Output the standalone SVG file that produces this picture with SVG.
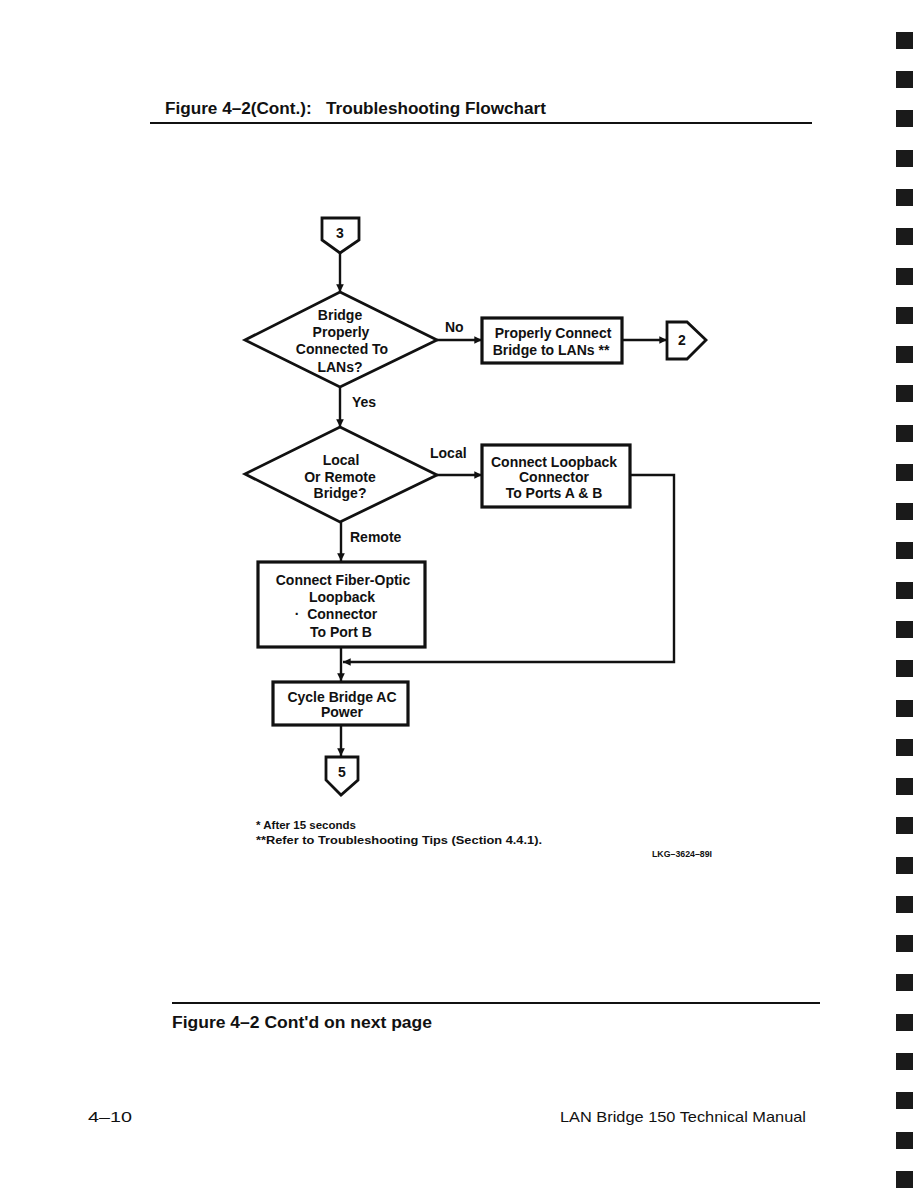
<svg xmlns="http://www.w3.org/2000/svg" width="918" height="1188" viewBox="0 0 918 1188">
<style>
.t{font-family:"Liberation Sans",Arial,sans-serif;font-weight:bold;font-size:14px;fill:#111}
.c{text-anchor:middle}
.h{font-size:16px}
.n{font-size:11.5px}
.s{font-size:9.5px}
.f{font-size:15px;font-weight:normal}
.shape{fill:#fff;stroke:#111;stroke-width:2.8}
.box{fill:#fff;stroke:#111;stroke-width:3.2}
.ln{fill:none;stroke:#111;stroke-width:2.4}
.rule{stroke:#111;stroke-width:2.2}
.mark{fill:#1a1a1a}
</style>
<defs>
<marker id="ah" viewBox="0 0 10 10" refX="10" refY="5" markerWidth="3.2" markerHeight="3.2" orient="auto" markerUnits="strokeWidth">
<path d="M0,0 L10,5 L0,10 z" fill="#111"/>
</marker>
</defs>
<rect width="918" height="1188" fill="#fff"/>

<g id="header">
<text class="t h" x="165" y="114" xml:space="preserve" textLength="381" lengthAdjust="spacingAndGlyphs">Figure 4–2(Cont.):   Troubleshooting Flowchart</text>
<line class="rule" x1="150" y1="123" x2="812" y2="123"/>
</g>

<g id="connectors">
<path class="ln" d="M340,253 V292" marker-end="url(#ah)"/>
<path class="ln" d="M437,340 H482" marker-end="url(#ah)"/>
<path class="ln" d="M622,340 H667" marker-end="url(#ah)"/>
<path class="ln" d="M340,387 V427" marker-end="url(#ah)"/>
<path class="ln" d="M437,475 H482" marker-end="url(#ah)"/>
<path class="ln" d="M341,522 V561" marker-end="url(#ah)"/>
<path class="ln" d="M630,475 H674 V662 H343" marker-end="url(#ah)"/>
<path class="ln" d="M341,647 V681" marker-end="url(#ah)"/>
<path class="ln" d="M341,725 V756" marker-end="url(#ah)"/>
</g>

<g id="labels">
<text class="t" x="445" y="332">No</text>
<text class="t" x="352" y="407">Yes</text>
<text class="t" x="430" y="458">Local</text>
<text class="t" x="350" y="542">Remote</text>
</g>

<g id="conn3">
<path class="shape" d="M322,218 H359 V240 L340,253 L322,240 Z"/>
<text class="t c" x="340" y="238">3</text>
</g>

<g id="decision1">
<path class="shape" d="M340,292 L437,340 L340,387 L245,340 Z"/>
<text class="t c" x="340" y="320">Bridge</text>
<text class="t c" x="341" y="337">Properly</text>
<text class="t c" x="342" y="354">Connected To</text>
<text class="t c" x="340" y="372">LANs?</text>
</g>

<g id="box1">
<rect class="box" x="482" y="318" width="140" height="45"/>
<text class="t c" x="553" y="338">Properly Connect</text>
<text class="t c" x="551" y="355">Bridge to LANs **</text>
</g>

<g id="conn2">
<path class="shape" d="M667,322 H687 L706,340 L687,359 H667 Z"/>
<text class="t c" x="682" y="345">2</text>
</g>

<g id="decision2">
<path class="shape" d="M340,427 L437,475 L340,522 L245,474 Z"/>
<text class="t c" x="341" y="465">Local</text>
<text class="t c" x="340" y="482">Or Remote</text>
<text class="t c" x="340" y="498">Bridge?</text>
</g>

<g id="box2">
<rect class="box" x="482" y="445" width="148" height="62"/>
<text class="t c" x="554" y="467">Connect Loopback</text>
<text class="t c" x="554" y="482">Connector</text>
<text class="t c" x="554" y="498">To Ports A &amp; B</text>
</g>

<g id="box3">
<rect class="box" x="258" y="562" width="167" height="85"/>
<text class="t c" x="343" y="585">Connect Fiber-Optic</text>
<text class="t c" x="342" y="602">Loopback</text>
<text class="t c" x="336" y="619" xml:space="preserve">·  Connector</text>
<text class="t c" x="341" y="637">To Port B</text>
</g>

<g id="box4">
<rect class="box" x="273" y="682" width="135" height="43"/>
<text class="t c" x="342" y="702">Cycle Bridge AC</text>
<text class="t c" x="342" y="717">Power</text>
</g>

<g id="conn5">
<path class="shape" d="M326,757 H358 V780 L341,795 L326,780 Z"/>
<text class="t c" x="342" y="777">5</text>
</g>

<g id="notes">
<text class="t n" x="256" y="829">* After 15 seconds</text>
<text class="t n" x="256" y="844" textLength="286" lengthAdjust="spacingAndGlyphs">**Refer to Troubleshooting Tips (Section 4.4.1).</text>
<text class="t s" x="652" y="857" textLength="60" lengthAdjust="spacingAndGlyphs">LKG–3624–89I</text>
</g>

<g id="footer">
<line class="rule" x1="172" y1="1003" x2="820" y2="1003"/>
<text class="t h" x="172" y="1028" textLength="260" lengthAdjust="spacingAndGlyphs">Figure 4–2 Cont'd on next page</text>
<text class="t f" x="88" y="1122" textLength="44" lengthAdjust="spacingAndGlyphs">4–10</text>
<text class="t f" x="560" y="1122" textLength="246" lengthAdjust="spacingAndGlyphs">LAN Bridge 150 Technical Manual</text>
</g>

<g id="edge-marks">
<rect class="mark" x="896" y="32" width="17" height="17"/>
<rect class="mark" x="896" y="71" width="17" height="17"/>
<rect class="mark" x="896" y="110" width="17" height="17"/>
<rect class="mark" x="896" y="150" width="17" height="17"/>
<rect class="mark" x="896" y="189" width="17" height="17"/>
<rect class="mark" x="896" y="228" width="17" height="17"/>
<rect class="mark" x="896" y="268" width="17" height="17"/>
<rect class="mark" x="896" y="307" width="17" height="17"/>
<rect class="mark" x="896" y="346" width="17" height="17"/>
<rect class="mark" x="896" y="385" width="17" height="17"/>
<rect class="mark" x="896" y="425" width="17" height="17"/>
<rect class="mark" x="896" y="464" width="17" height="17"/>
<rect class="mark" x="896" y="503" width="17" height="17"/>
<rect class="mark" x="896" y="542" width="17" height="17"/>
<rect class="mark" x="896" y="582" width="17" height="17"/>
<rect class="mark" x="896" y="621" width="17" height="17"/>
<rect class="mark" x="896" y="660" width="17" height="17"/>
<rect class="mark" x="896" y="700" width="17" height="17"/>
<rect class="mark" x="896" y="739" width="17" height="17"/>
<rect class="mark" x="896" y="778" width="17" height="17"/>
<rect class="mark" x="896" y="817" width="17" height="17"/>
<rect class="mark" x="896" y="857" width="17" height="17"/>
<rect class="mark" x="896" y="896" width="17" height="17"/>
<rect class="mark" x="896" y="935" width="17" height="17"/>
<rect class="mark" x="896" y="974" width="17" height="17"/>
<rect class="mark" x="896" y="1014" width="17" height="17"/>
<rect class="mark" x="896" y="1053" width="17" height="17"/>
<rect class="mark" x="896" y="1092" width="17" height="17"/>
<rect class="mark" x="896" y="1132" width="17" height="17"/>
<rect class="mark" x="896" y="1171" width="17" height="17"/>
</g>
</svg>
